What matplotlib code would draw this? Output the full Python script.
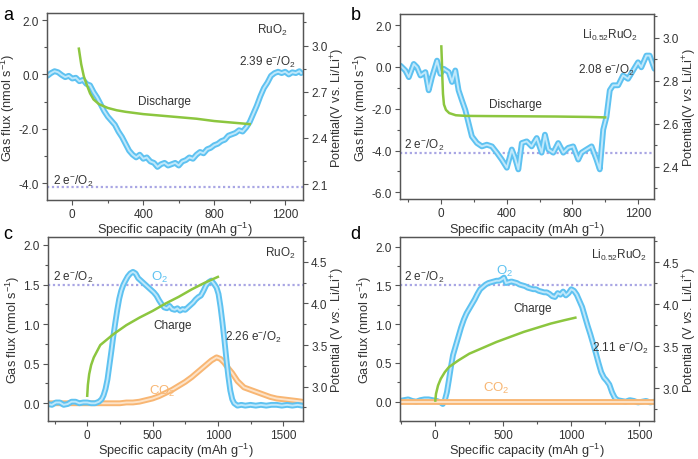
import matplotlib

matplotlib.use("Agg")
import matplotlib.pyplot as plt
from matplotlib.ticker import MultipleLocator, FormatStrFormatter

plt.rcParams["font.family"] = ["Liberation Sans", "DejaVu Sans"]
plt.rcParams["axes.unicode_minus"] = False
plt.rcParams["mathtext.fontset"] = "custom"
plt.rcParams["mathtext.rm"] = "Liberation Sans"
plt.rcParams["mathtext.it"] = "Liberation Sans:italic"

BLUE = "#5ec2f1"
BLUE_IN = "#bfe8fb"
ORANGE = "#f8b673"
ORANGE_IN = "#fde3c8"
GREEN = "#8cc63f"
LAVENDER = "#a9a6e4"
INK = "#333333"

# ---- panel a: RuO2 discharge ----
a_cap = [-140, -120, -100, -80, -60, -40, -20, 0, 20, 40, 60, 80, 100, 120, 140, 160,
         180, 200, 220, 240, 260, 280, 300, 320, 340, 360, 380, 400, 420, 440, 460,
         480, 500, 520, 540, 560, 580, 600, 620, 640, 660, 680, 700, 720, 740, 760,
         780, 800, 820, 840, 860, 880, 900, 920, 940, 960, 980, 1000, 1020, 1040,
         1060, 1080, 1100, 1120, 1140, 1160, 1180, 1200, 1220, 1240, 1260, 1280, 1290]
a_o2 = [-0.05, 0.05, 0.12, 0.08, -0.02, -0.10, -0.05, -0.15, -0.12, -0.25, -0.20,
        -0.35, -0.40, -0.65, -0.85, -1.10, -1.35, -1.55, -1.70, -1.85, -2.10, -2.30,
        -2.55, -2.80, -2.95, -3.05, -2.95, -3.10, -3.05, -3.20, -3.25, -3.40, -3.30,
        -3.25, -3.35, -3.30, -3.25, -3.35, -3.20, -3.15, -3.05, -3.10, -2.95, -2.85,
        -2.90, -2.75, -2.70, -2.60, -2.55, -2.45, -2.40, -2.25, -2.20, -2.15, -2.05,
        -2.10, -1.95, -1.75, -1.45, -1.15, -0.80, -0.50, -0.30, -0.05, 0.05, 0.10,
        0.05, 0.10, 0.00, 0.08, 0.05, 0.12, 0.05]
a_vcap = [37, 50, 65, 80, 100, 120, 150, 200, 250, 300, 400, 500, 600, 700, 800, 900, 1000]
a_volt = [2.98, 2.88, 2.80, 2.75, 2.69, 2.65, 2.62, 2.595, 2.58, 2.57, 2.555, 2.545,
          2.535, 2.525, 2.51, 2.50, 2.49]

# ---- panel b: Li0.52RuO2 discharge ----
b_cap = [-247, -217, -196, -166, -146, -125, -95, -75, -55, -24, -4, 16, 47, 67, 87,
         107, 127, 148, 168, 188, 219, 249, 279, 310, 340, 370, 401, 431, 451, 471,
         492, 522, 552, 583, 613, 633, 654, 684, 714, 745, 775, 805, 836, 856, 886,
         917, 947, 967, 988, 1008, 1028, 1048, 1079, 1109, 1139, 1170, 1200, 1220,
         1251, 1271, 1300]
b_o2 = [0.06, -0.17, -0.49, 0.14, -0.02, -0.41, -0.25, -1.12, -0.49, 0.30, -0.33,
        -0.09, -0.25, -0.72, -0.17, -1.12, -1.59, -2.06, -2.69, -3.32, -3.64, -3.80,
        -3.72, -3.80, -4.10, -4.43, -4.82, -3.95, -4.35, -4.90, -3.64, -3.56, -3.80,
        -3.40, -4.10, -3.24, -3.95, -4.10, -3.64, -4.10, -3.87, -3.80, -4.43, -4.10,
        -3.95, -3.80, -4.43, -4.90, -3.00, -2.38, -1.12, -0.88, -0.88, -0.41, -0.57,
        -0.17, 0.22, -0.02, 0.54, 0.54, -0.09]
b_vcap = [2, 5, 8, 12, 18, 30, 50, 90, 150, 300, 500, 700, 900, 1000]
b_volt = [2.96, 2.90, 2.82, 2.74, 2.69, 2.665, 2.65, 2.64, 2.637, 2.636, 2.635,
          2.634, 2.632, 2.630]

# ---- panel c: RuO2 charge ----
c_cap = [-300, -270, -240, -210, -180, -150, -120, -90, -60, -30, 0, 30, 60, 90, 110,
         125, 140, 155, 170, 185, 200, 215, 230, 245, 260, 275, 290, 310, 330, 350,
         370, 390, 410, 430, 450, 470, 490, 510, 530, 550, 570, 590, 610, 630, 650,
         670, 690, 710, 730, 750, 770, 790, 810, 830, 850, 870, 890, 910, 930, 950,
         970, 990, 1005, 1020, 1035, 1050, 1065, 1080, 1095, 1110, 1125, 1150, 1180,
         1210, 1250, 1290, 1330, 1370, 1410, 1450, 1490, 1530, 1570, 1610, 1645]
c_o2 = [-0.01, -0.02, 0.01, 0.01, -0.02, -0.01, 0.02, 0.02, 0.00, 0.01, 0.01, 0.00,
        0.00, 0.02, 0.05, 0.10, 0.18, 0.30, 0.48, 0.66, 0.85, 1.02, 1.18, 1.32, 1.42,
        1.49, 1.54, 1.60, 1.64, 1.66, 1.64, 1.58, 1.55, 1.52, 1.49, 1.46, 1.43, 1.40,
        1.36, 1.30, 1.25, 1.21, 1.20, 1.23, 1.19, 1.18, 1.20, 1.17, 1.19, 1.18, 1.21,
        1.24, 1.27, 1.31, 1.34, 1.36, 1.42, 1.49, 1.53, 1.55, 1.51, 1.46, 1.38, 1.22,
        1.02, 0.80, 0.56, 0.34, 0.16, 0.05, 0.00, -0.03, -0.02, -0.03, -0.02, -0.03,
        -0.02, -0.03, -0.02, -0.02, -0.03, -0.02, -0.03, -0.02, -0.03]
c_co2cap = [-300, -250, -200, -150, -100, -50, 0, 50, 100, 150, 200, 250, 300, 350,
            400, 450, 500, 550, 600, 650, 700, 750, 800, 850, 900, 950, 990, 1020,
            1050, 1080, 1110, 1150, 1200, 1250, 1300, 1350, 1400, 1450, 1500, 1550,
            1600, 1645]
c_co2 = [0.00, 0.00, 0.00, 0.00, 0.00, 0.00, 0.00, 0.00, 0.00, 0.00, 0.00, 0.00,
         0.01, 0.01, 0.02, 0.04, 0.06, 0.09, 0.13, 0.17, 0.22, 0.27, 0.33, 0.40,
         0.47, 0.54, 0.58, 0.56, 0.51, 0.44, 0.38, 0.28, 0.20, 0.17, 0.14, 0.11,
         0.08, 0.06, 0.05, 0.04, 0.03, 0.02]
c_vcap = [0, 5, 15, 30, 50, 100, 200, 300, 400, 500, 600, 700, 800, 900, 1000]
c_volt = [2.89, 3.02, 3.15, 3.26, 3.35, 3.50, 3.63, 3.74, 3.83, 3.91, 4.00, 4.08,
          4.17, 4.25, 4.32]

# ---- panel d: Li0.52RuO2 charge ----
d_cap = [-260, -230, -200, -170, -140, -110, -80, -50, -20, 10, 40, 55, 70, 85, 100,
         115, 130, 150, 170, 190, 210, 230, 250, 270, 290, 310, 330, 350, 370, 390,
         410, 430, 450, 470, 490, 505, 520, 540, 560, 580, 600, 620, 640, 660, 680,
         700, 720, 740, 760, 780, 800, 820, 840, 860, 880, 900, 920, 940, 960, 980,
         1000, 1020, 1040, 1060, 1080, 1100, 1120, 1140, 1160, 1180, 1200, 1220, 1240,
         1260, 1280, 1300, 1320, 1340, 1370, 1400, 1430, 1460, 1490, 1520, 1550, 1580,
         1610]
d_o2 = [0.01, 0.02, 0.03, 0.01, 0.00, 0.02, 0.03, 0.03, 0.02, 0.01, -0.01, -0.03,
        0.02, 0.12, 0.28, 0.45, 0.60, 0.72, 0.84, 0.96, 1.06, 1.14, 1.20, 1.26, 1.32,
        1.39, 1.45, 1.48, 1.51, 1.53, 1.54, 1.55, 1.56, 1.56, 1.58, 1.60, 1.53, 1.54,
        1.55, 1.54, 1.53, 1.51, 1.50, 1.49, 1.47, 1.46, 1.45, 1.45, 1.43, 1.42, 1.41,
        1.41, 1.39, 1.36, 1.35, 1.40, 1.38, 1.42, 1.37, 1.40, 1.45, 1.43, 1.38, 1.30,
        1.22, 1.10, 0.98, 0.87, 0.75, 0.63, 0.50, 0.38, 0.31, 0.27, 0.22, 0.12, 0.05,
        0.02, 0.01, 0.00, 0.02, 0.01, -0.01, 0.00, 0.01, -0.01, 0.00]
d_co2cap = [-260, -210, -160, -110, -60, -10, 40, 90, 140, 190, 240, 290, 340, 390,
            440, 490, 540, 590, 640, 690, 740, 790, 840, 890, 940, 990, 1040, 1090,
            1140, 1190, 1240, 1290, 1340, 1390, 1440, 1490, 1540, 1590, 1610]
d_co2 = [-0.01, -0.01, -0.01, -0.01, -0.01, -0.01, -0.01, -0.01, -0.01, -0.01, -0.01,
         -0.01, -0.01, -0.01, -0.01, -0.01, -0.01, -0.01, -0.01, -0.01, -0.01, -0.01,
         -0.01, -0.01, -0.01, -0.01, -0.01, -0.01, -0.01, -0.01, -0.01, -0.01, -0.01,
         -0.01, -0.01, -0.01, -0.01, -0.01, -0.01]
d_vcap = [0, 5, 20, 40, 70, 100, 170, 250, 350, 450, 550, 650, 750, 850, 950, 1030]
d_volt = [2.85, 2.93, 3.03, 3.11, 3.19, 3.25, 3.33, 3.41, 3.48, 3.55, 3.61, 3.67,
          3.72, 3.77, 3.81, 3.84]

XLABEL = "Specific capacity (mAh g$^{-1}$)"
YLABEL = "Gas flux (nmol s$^{-1}$)"
LBL = 9.2
TXT = 8.5


def band(ax, x, y, color, inner):
    # dense open-circle trace drawn as an outlined band
    ax.plot(x, y, color=color, lw=4.2, solid_joinstyle="round",
            solid_capstyle="round", zorder=2)
    ax.plot(x, y, color=inner, lw=1.4, solid_joinstyle="round", zorder=2)


def style(ax, ax2):
    for a in (ax, ax2):
        for s in a.spines.values():
            s.set_color("#555555")
            s.set_linewidth(0.9)
        a.tick_params(which="both", direction="out", colors="#555555",
                      labelcolor=INK, labelsize=8.5, width=0.8, pad=2.5)
        a.tick_params(which="major", length=3.5)
        a.tick_params(which="minor", length=2)
    ax.xaxis.label.set_color(INK)
    ax.yaxis.label.set_color(INK)
    ax2.yaxis.label.set_color(INK)


def labels(ax, ax2, right):
    ax.set_xlabel(XLABEL, fontsize=LBL, labelpad=0)
    ax.set_ylabel(YLABEL, fontsize=LBL, labelpad=1)
    ax2.set_ylabel(right, fontsize=LBL, labelpad=1)


fig = plt.figure(figsize=(6.98, 4.6), dpi=100)

# panel a
ax = fig.add_axes([0.068, 0.564, 0.366, 0.405])
ax2 = ax.twinx()
band(ax, a_cap, a_o2, BLUE, BLUE_IN)
ax.axhline(-4.15, color=LAVENDER, lw=1.6, ls=(0, (1, 1.2)), zorder=1)
ax2.plot(a_vcap, a_volt, color=GREEN, lw=1.8, zorder=3)
ax.set_xlim(-140, 1300)
ax.set_ylim(-4.6, 2.25)
ax2.set_ylim(2.0, 3.21)
ax.xaxis.set_major_locator(MultipleLocator(400))
ax.xaxis.set_minor_locator(MultipleLocator(200))
ax.yaxis.set_major_locator(MultipleLocator(2))
ax.yaxis.set_minor_locator(MultipleLocator(1))
ax2.yaxis.set_major_locator(MultipleLocator(0.3))
ax2.yaxis.set_minor_locator(MultipleLocator(0.15))
ax.yaxis.set_major_formatter(FormatStrFormatter("%.1f"))
ax2.yaxis.set_major_formatter(FormatStrFormatter("%.1f"))
labels(ax, ax2, "Potential(V vs. Li/Li$^{+}$)")
ax.text(1127, 1.66, "RuO$_2$", ha="center", va="center", fontsize=TXT, color=INK)
ax.text(1097, 0.49, "2.39 e$^{-}$/O$_2$", ha="center", va="center", fontsize=TXT, color=INK)
ax.text(520, -0.97, "Discharge", ha="center", va="center", fontsize=TXT, color=INK)
ax.text(-109, -3.9, "2 e$^{-}$/O$_2$", ha="left", va="center", fontsize=TXT, color=INK)
style(ax, ax2)
fig.text(0.005, 0.985, "a", fontsize=13, va="top", ha="left")

# panel b
ax = fig.add_axes([0.573, 0.565, 0.3646, 0.402])
ax2 = ax.twinx()
band(ax, b_cap, b_o2, BLUE, BLUE_IN)
ax.axhline(-4.14, color=LAVENDER, lw=1.6, ls=(0, (1, 1.2)), zorder=1)
ax2.plot(b_vcap, b_volt, color=GREEN, lw=1.8, zorder=3)
ax.set_xlim(-250, 1300)
ax.set_ylim(-6.32, 2.52)
ax2.set_ylim(2.25, 3.11)
ax.xaxis.set_major_locator(MultipleLocator(400))
ax.xaxis.set_minor_locator(MultipleLocator(200))
ax.yaxis.set_major_locator(MultipleLocator(2))
ax.yaxis.set_minor_locator(MultipleLocator(1))
ax2.yaxis.set_major_locator(MultipleLocator(0.2))
ax2.yaxis.set_minor_locator(MultipleLocator(0.1))
ax.yaxis.set_major_formatter(FormatStrFormatter("%.1f"))
ax2.yaxis.set_major_formatter(FormatStrFormatter("%.1f"))
labels(ax, ax2, "Potential(V $\\it{vs.}$Li/Li$^{+}$)")
ax.text(1028, 1.56, "Li$_{0.52}$RuO$_2$", ha="center", va="center", fontsize=TXT, color=INK)
ax.text(1005, -0.1, "2.08 e$^{-}$/O$_2$", ha="center", va="center", fontsize=TXT, color=INK)
ax.text(451, -1.78, "Discharge", ha="center", va="center", fontsize=TXT, color=INK)
ax.text(-227, -3.72, "2 e$^{-}$/O$_2$", ha="left", va="center", fontsize=TXT, color=INK)
style(ax, ax2)
fig.text(0.502, 0.985, "b", fontsize=13, va="top", ha="left")

# panel c
ax = fig.add_axes([0.0688, 0.0833, 0.365, 0.3993])
ax2 = ax.twinx()
band(ax, c_co2cap, c_co2, ORANGE, ORANGE_IN)
band(ax, c_cap, c_o2, BLUE, BLUE_IN)
ax.axhline(1.5, color=LAVENDER, lw=1.6, ls=(0, (1, 1.2)), zorder=1)
ax2.plot(c_vcap, c_volt, color=GREEN, lw=1.8, zorder=3)
ax.set_xlim(-300, 1650)
ax.set_ylim(-0.22, 2.1)
ax2.set_ylim(2.59, 4.8)
ax.xaxis.set_major_locator(MultipleLocator(500))
ax.xaxis.set_minor_locator(MultipleLocator(250))
ax.yaxis.set_major_locator(MultipleLocator(0.5))
ax.yaxis.set_minor_locator(MultipleLocator(0.25))
ax2.yaxis.set_major_locator(MultipleLocator(0.5))
ax2.yaxis.set_minor_locator(MultipleLocator(0.25))
ax.yaxis.set_major_formatter(FormatStrFormatter("%.1f"))
ax2.yaxis.set_major_formatter(FormatStrFormatter("%.1f"))
labels(ax, ax2, "Potential (V $\\it{vs.}$ Li/Li$^{+}$)")
ax.text(1474, 1.9, "RuO$_2$", ha="center", va="center", fontsize=TXT, color=INK)
ax.text(553, 1.6, "O$_2$", ha="center", va="center", fontsize=9.5, color=BLUE)
ax.text(655, 0.99, "Charge", ha="center", va="center", fontsize=TXT, color=INK)
ax.text(1275, 0.85, "2.26 e$^{-}$/O$_2$", ha="center", va="center", fontsize=TXT, color=INK)
ax.text(578, 0.16, "CO$_2$", ha="center", va="center", fontsize=9.5, color=ORANGE)
ax.text(-261, 1.6, "2 e$^{-}$/O$_2$", ha="left", va="center", fontsize=TXT, color=INK)
style(ax, ax2)
fig.text(0.005, 0.508, "c", fontsize=13, va="top", ha="left")

# panel d
ax = fig.add_axes([0.573, 0.0833, 0.3643, 0.3987])
ax2 = ax.twinx()
band(ax, d_cap, d_o2, BLUE, BLUE_IN)
band(ax, d_co2cap, d_co2, ORANGE, ORANGE_IN)
ax.axhline(1.51, color=LAVENDER, lw=1.6, ls=(0, (1, 1.2)), zorder=1)
ax2.plot(d_vcap, d_volt, color=GREEN, lw=1.8, zorder=3)
ax.set_xlim(-260, 1610)
ax.set_ylim(-0.245, 2.12)
ax2.set_ylim(2.61, 4.8)
ax.xaxis.set_major_locator(MultipleLocator(500))
ax.xaxis.set_minor_locator(MultipleLocator(250))
ax.yaxis.set_major_locator(MultipleLocator(0.5))
ax.yaxis.set_minor_locator(MultipleLocator(0.25))
ax2.yaxis.set_major_locator(MultipleLocator(0.5))
ax2.yaxis.set_minor_locator(MultipleLocator(0.25))
ax.yaxis.set_major_formatter(FormatStrFormatter("%.1f"))
ax2.yaxis.set_major_formatter(FormatStrFormatter("%.1f"))
labels(ax, ax2, "Potential (V $\\it{vs.}$ Li/Li$^{+}$)")
ax.text(1352, 1.9, "Li$_{0.52}$RuO$_2$", ha="center", va="center", fontsize=TXT, color=INK)
ax.text(511, 1.69, "O$_2$", ha="center", va="center", fontsize=9.5, color=BLUE)
ax.text(718, 1.21, "Charge", ha="center", va="center", fontsize=TXT, color=INK)
ax.text(1364, 0.70, "2.11 e$^{-}$/O$_2$", ha="center", va="center", fontsize=TXT, color=INK)
ax.text(451, 0.18, "CO$_2$", ha="center", va="center", fontsize=9.5, color=ORANGE)
ax.text(-227, 1.62, "2 e$^{-}$/O$_2$", ha="left", va="center", fontsize=TXT, color=INK)
style(ax, ax2)
fig.text(0.502, 0.508, "d", fontsize=13, va="top", ha="left")

fig.savefig("out.png", dpi=100)
plt.close(fig)
